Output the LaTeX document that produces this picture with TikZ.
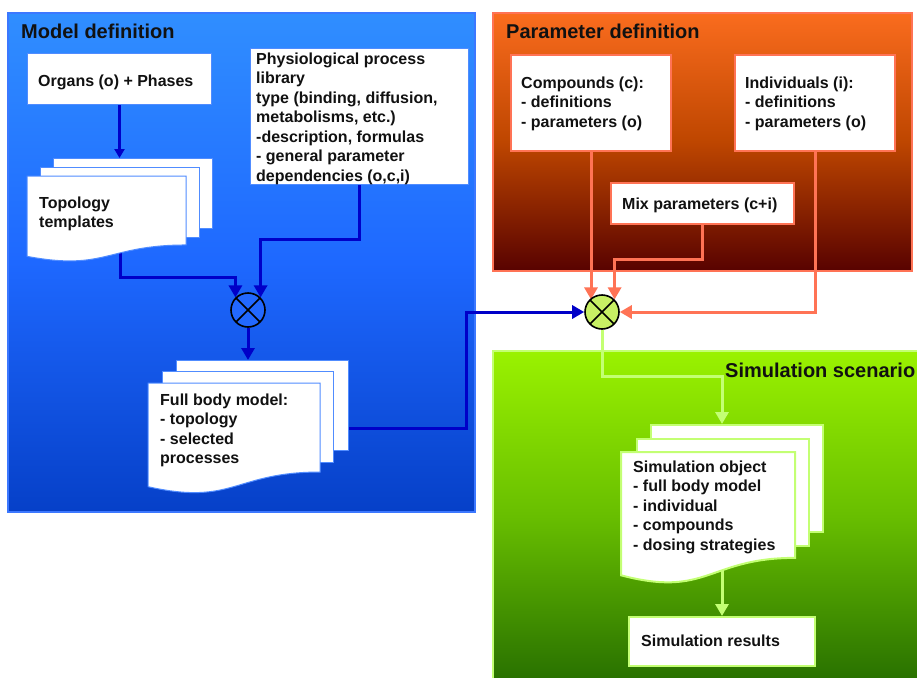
\documentclass[tikz,border=0pt]{standalone}
\usepackage{fontspec}
\setmainfont{Liberation Sans}
\usetikzlibrary{arrows.meta,calc}
\pgfdeclarelayer{bg}
\pgfdeclarelayer{edges}
\pgfsetlayers{bg,edges,main}
\definecolor{bluetop}{RGB}{48,142,255}
\definecolor{bluemid}{RGB}{30,104,255}
\definecolor{bluebot}{RGB}{6,64,200}
\definecolor{blueedge}{RGB}{60,120,255}
\definecolor{pageblue}{RGB}{80,140,255}
\definecolor{blueline}{RGB}{0,0,200}
\definecolor{orgtop}{RGB}{250,108,30}
\definecolor{orgmid}{RGB}{190,70,0}
\definecolor{orgbot}{RGB}{88,2,0}
\definecolor{salmon}{RGB}{255,115,85}
\definecolor{greentop}{RGB}{154,242,0}
\definecolor{greenmid}{RGB}{104,190,0}
\definecolor{greenbot}{RGB}{40,112,0}
\definecolor{lightgreen}{RGB}{195,255,115}
\definecolor{circgreen}{RGB}{200,240,100}
\definecolor{circblue}{RGB}{34,104,255}
\definecolor{txt}{RGB}{17,17,17}
\newcommand\docfront[5]{\path[#5] (#1,#2) -- ({#1+#3},#2) -- ({#1+#3},{#2+0.802*#4}) .. controls ({#1+0.5*#3},{#2+0.802*#4}) and ({#1+0.5*#3},{#2+1.1075*#4}) .. (#1,{#2+0.934*#4}) -- cycle;}
\tikzset{
  tip/.style={-{Triangle[width=13pt,length=12pt]}},
  smalltip/.style={-{Triangle[width=10pt,length=9pt]}},
  barrow/.style={tip, draw=blueline, line width=3pt},
  oarrow/.style={tip, draw=salmon, line width=3pt},
  garrow/.style={tip, draw=lightgreen, line width=3pt},
  boxb/.style={draw=pageblue, fill=white, line width=1pt, anchor=north west, inner sep=0},
  boxo/.style={draw=salmon, fill=white, line width=2pt, anchor=north west, inner sep=0},
  boxg/.style={draw=lightgreen, fill=white, line width=2pt, anchor=north west, inner sep=0},
  lbl/.style={anchor=base west, inner sep=0},
  mlbl/.style={anchor=north west, inner sep=0, align=left},
  ttl/.style={anchor=base west, inner sep=0, font=\bfseries\fontsize{20}{24}\selectfont},
  joint/.style={circle, draw=black, line width=1.6pt, minimum size=34pt, inner sep=0,
    path picture={\draw[line width=1.6pt] (path picture bounding box.north west) -- (path picture bounding box.south east)
      (path picture bounding box.south west) -- (path picture bounding box.north east);}},
}
\begin{document}
\begin{tikzpicture}[x=1pt,y=-1pt,font=\bfseries\fontsize{16}{19.5}\selectfont,text=txt]
\useasboundingbox (0,0) rectangle (917,677);
\begin{pgfonlayer}{bg}
  \fill[white] (0,0) rectangle (917,677);
  \path[draw=blueedge, line width=1.5pt, top color=bluetop, bottom color=bluebot, middle color=bluemid] (8,13) rectangle (475,512);
  \path[draw=salmon, line width=1.5pt, top color=orgtop, bottom color=orgbot, middle color=orgmid] (493,13) rectangle (912,271);
  \path[draw=lightgreen, line width=1.5pt, top color=greentop, bottom color=greenbot, middle color=greenmid] (493,351) rectangle (925,682);
\end{pgfonlayer}
% titles
\node[ttl] (t1) at (21,39) {Model definition};
\node[ttl] (t2) at (506,39) {Parameter definition};
\node[ttl] (t3) at (725,377) {Simulation scenario};
% model definition
\node[boxb, minimum width=184pt, minimum height=51pt] (organs) at (27,53) {};
\node[lbl] (organsT) at (38,86) {Organs (o) + Phases};
\node[boxb, minimum width=218pt, minimum height=136pt] (proc) at (250,48) {};
\node[mlbl] (procT) at (256,52.5) {Physiological process\\library\\type (binding, diffusion,\\metabolisms, etc.)\\-description, formulas\\- general parameter\\dependencies (o,c,i)};
% topology stack
\node[boxb, minimum width=159pt, minimum height=70pt] (topo3) at (53,158) {};
\node[boxb, minimum width=159pt, minimum height=70pt] (topo2) at (40,167) {};
\docfront{27}{176}{159}{86}{draw=pageblue, fill=white, line width=1pt}
\node[mlbl] (topoT) at (39,196.5) {Topology\\templates};
\coordinate (topoB) at (120,250);
% joint 1
\node[joint, fill=circblue] (c1) at (248,310) {};
% full body stack
\node[boxb, minimum width=172pt, minimum height=90pt] (fb3) at (176,360) {};
\node[boxb, minimum width=171pt, minimum height=91pt] (fb2) at (162,371) {};
\docfront{148}{383}{172}{111}{draw=pageblue, fill=white, line width=1pt}
\node[mlbl] (fbT) at (160,393.5) {Full body model:\\- topology\\- selected\\processes};
% parameter definition
\node[boxo, minimum width=160pt, minimum height=96pt] (comp) at (510,54) {};
\node[mlbl] (compT) at (521,76.5) {Compounds (c):\\- definitions\\- parameters (o)};
\node[boxo, minimum width=160pt, minimum height=96pt] (ind) at (734,54) {};
\node[mlbl] (indT) at (745,76.5) {Individuals (i):\\- definitions\\- parameters (o)};
\node[boxo, minimum width=183pt, minimum height=41pt] (mix) at (610,182) {};
\node[lbl] (mixT) at (622,209) {Mix parameters (c+i)};
% joint 2
\node[joint, fill=circgreen] (c2) at (602,312) {};
% simulation
\node[boxg, minimum width=172pt, minimum height=107pt] (sim3) at (650,424) {};
\node[boxg, minimum width=172pt, minimum height=107pt] (sim2) at (636,438) {};
\docfront{621}{452}{174}{132}{draw=lightgreen, fill=white, line width=2pt}
\node[mlbl] (simT) at (633,460.5) {Simulation object\\- full body model\\- individual\\- compounds\\- dosing strategies};
\node[boxg, minimum width=186pt, minimum height=49pt] (res) at (628,616) {};
\node[lbl] (resT) at (641,646) {Simulation results};
% connectors
\begin{pgfonlayer}{edges}
  \draw[barrow, smalltip] (organs.south) -- (organs.south |- topo3.north);
  \draw[barrow] (topoB) -- (topoB |- 0,277) -| (c1.north west);
  \draw[barrow] (proc.south) -- (proc.south |- 0,239) -| (c1.north east);
  \draw[barrow] (c1.south) -- (c1.south |- fb3.north);
  \draw[barrow] ([yshift=-23pt]fb3.east) -| (c2.west -| 466,0) -- (c2.west);
  \draw[oarrow] (comp.south) -- (comp.south |- c2.north west);
  \draw[oarrow] (mix.south) -- (mix.south |- 0,259) -| (c2.north east);
  \draw[oarrow] (ind.south) |- (c2.east);
  \draw[garrow] (c2.south) -- (c2.south |- 0,376) -| (res.north |- sim3.north);
  \draw[garrow] (res.north |- 0,565) -- (res.north);
\end{pgfonlayer}
\end{tikzpicture}
\end{document}
